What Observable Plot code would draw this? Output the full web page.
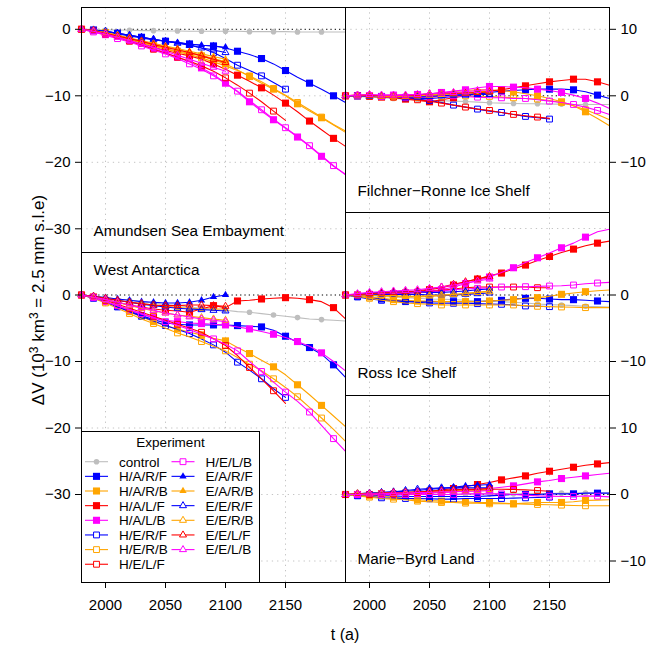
<!DOCTYPE html>
<html>
<head>
<meta charset="utf-8">
<script src="https://cdn.jsdelivr.net/npm/d3@7"></script>
<script src="https://cdn.jsdelivr.net/npm/@observablehq/plot@0.6"></script>
<style>
html,body{margin:0;padding:0;background:#fff;}
#chart{position:relative;width:649px;height:648px;overflow:hidden;font-family:"Liberation Sans",Arial,Helvetica,sans-serif;}
#chart svg{position:absolute;}
</style>
</head>
<body>
<div id="chart"></div>
<script>
// ---------------- data ----------------
const years = [1980,1990,2000,2010,2020,2030,2040,2050,2060,2070,2080,2090,2100,2110,2120,2130,2140,2150,2160,2170,2180,2190,2200];
const experiments = ["control","H/A/R/F","H/A/R/B","H/A/L/F","H/A/L/B","H/E/R/F","H/E/R/B","H/E/L/F","H/E/L/B","E/A/R/F","E/A/R/B","E/E/R/F","E/E/R/B","E/E/L/F","E/E/L/B"];
const xTicks = [2000,2050,2100,2150];
const yTicksASE = [0,-10,-20,-30];
const yTicksWA = [0,-10,-20,-30];
const yTicksFR = [10,0,-10];
const yTicksRoss = [0,-10];
const yTicksMBL = [10,0,-10];
const yGridASE = [-10,-20,-30];
const yGridWA = [-10,-20,-30,-40];
const yGridRight = [10,-10];

// Amundsen Sea Embayment
const ase_control = [0,0,-0.1,-0.1,-0.15,-0.2,-0.2,-0.25,-0.25,-0.3,-0.3,-0.3,-0.3,-0.3,-0.35,-0.35,-0.35,-0.35,-0.4,-0.4,-0.4,-0.4,-0.4];
const ase_HARF = [0,-0.1,-0.3,-0.6,-0.9,-1.2,-1.5,-1.8,-2.0,-2.2,-2.4,-2.5,-2.8,-3.3,-3.8,-4.4,-5.2,-6.2,-7.2,-8.1,-9.0,-10.0,-11.0];
const ase_HARB = [0,-0.2,-0.5,-0.9,-1.4,-1.9,-2.4,-2.9,-3.3,-3.6,-4.0,-4.6,-5.2,-6.1,-7.1,-8.1,-9.0,-10.0,-11.2,-12.3,-13.3,-14.4,-15.5];
const ase_HALF = [0,-0.2,-0.5,-1.0,-1.5,-2.1,-2.7,-3.2,-3.6,-4.0,-4.5,-5.2,-6.0,-6.9,-7.8,-8.8,-9.9,-11.1,-12.4,-13.8,-15.1,-16.4,-17.6];
const ase_HALB = [0,-0.4,-0.8,-1.2,-1.7,-2.3,-2.9,-3.5,-4.2,-4.9,-5.8,-6.8,-8.1,-9.4,-10.9,-12.3,-13.6,-14.9,-16.2,-17.6,-19.1,-20.6,-21.8];
const ase_HERF = [0,-0.2,-0.4,-0.7,-1.0,-1.3,-1.6,-1.8,-2.0,-2.3,-2.8,-3.5,-4.4,-5.4,-6.2,-7.0,-8.0,-9.0];
const ase_HERB = [0,-0.2,-0.5,-1.0,-1.5,-2.0,-2.5,-3.0,-3.4,-3.8,-4.3,-4.9,-5.5,-6.2,-7.0,-7.9,-8.9,-9.9,-11.0,-12.1,-13.2,-14.3,-15.3];
const ase_HELF = [0,-0.3,-0.7,-1.2,-1.8,-2.4,-3.0,-3.6,-4.2,-4.8,-5.5,-6.3,-7.3,-8.4,-9.6,-10.9,-12.3,-13.7];
const ase_HELB = [0,-0.4,-0.9,-1.4,-1.9,-2.5,-3.1,-3.7,-4.4,-5.2,-6.0,-7.0,-8.1,-9.3,-10.7,-12.1,-13.5,-14.8,-16.1,-17.5,-19.0,-20.5,-21.9];
const ase_EARF = [0,-0.1,-0.3,-0.6,-0.9,-1.2,-1.5,-1.8,-2.0,-2.2,-2.4,-2.5,-2.7];
const ase_EARB = [0,-0.2,-0.5,-0.9,-1.3,-1.7,-2.1,-2.5,-2.9,-3.3,-3.7,-4.1,-4.5];
const ase_EERF = [0,-0.1,-0.3,-0.6,-0.9,-1.2,-1.5,-1.8,-2.1,-2.4,-2.8,-3.1,-3.5];
const ase_EERB = [0,-0.2,-0.5,-0.9,-1.3,-1.8,-2.2,-2.6,-3.0,-3.5,-3.9,-4.4,-4.9];
const ase_EELF = [0,-0.2,-0.6,-1.0,-1.4,-1.8,-2.3,-2.7,-3.1,-3.5,-4.0,-4.5,-5.0];
const ase_EELB = [0,-0.3,-0.7,-1.2,-1.7,-2.2,-2.7,-3.3,-3.9,-4.5,-5.1,-5.7,-6.3];

// West Antarctica
const wa_control = [0,-0.2,-0.4,-0.6,-0.8,-1.0,-1.2,-1.4,-1.6,-1.8,-2.0,-2.2,-2.3,-2.5,-2.6,-2.8,-3.0,-3.2,-3.4,-3.6,-3.7,-3.8,-3.9];
const wa_HARF = [0,-0.4,-1.0,-1.7,-2.4,-3.1,-3.7,-4.2,-4.4,-4.5,-4.5,-4.5,-4.5,-4.6,-4.7,-4.8,-5.3,-6.2,-7.1,-7.9,-8.9,-10.5,-12.4];
const wa_HARB = [0,-0.4,-1.0,-1.7,-2.5,-3.3,-4.0,-4.6,-5.1,-5.6,-6.0,-6.5,-6.9,-7.9,-8.8,-9.8,-10.8,-12.0,-13.5,-15.0,-16.6,-18.2,-19.8];
const wa_HALF = [0,-0.3,-0.7,-1.1,-1.5,-1.8,-2.1,-2.3,-2.4,-2.6,-2.1,-1.6,-1.9,-0.9,-0.8,-0.6,-0.5,-0.4,-0.5,-0.7,-1.0,-1.9,-3.6];
const wa_HALB = [0,-0.4,-1.0,-1.6,-2.3,-2.9,-3.4,-3.8,-4.0,-4.2,-4.3,-4.4,-4.5,-4.8,-5.1,-5.5,-5.9,-6.4,-7.0,-7.7,-8.7,-10.0,-11.4];
const wa_HERF = [0,-0.5,-1.1,-1.8,-2.5,-3.2,-3.9,-4.6,-5.2,-5.8,-6.6,-7.5,-8.6,-10.1,-11.3,-12.6,-14.1,-15.4];
const wa_HERB = [0,-0.5,-1.2,-2.0,-2.8,-3.6,-4.3,-5.0,-5.7,-6.3,-7.0,-7.7,-8.4,-9.4,-10.4,-11.4,-12.6,-13.9,-15.3,-16.9,-18.5,-20.2,-22.0];
const wa_HELF = [0,-0.3,-0.8,-1.4,-2.0,-2.6,-3.2,-3.8,-4.4,-5.0,-5.6,-6.6,-7.6,-9.1,-10.9,-12.6,-14.4,-16.3];
const wa_HELB = [0,-0.4,-1.0,-1.6,-2.2,-2.8,-3.4,-4.0,-4.6,-5.2,-5.9,-6.6,-7.4,-8.4,-10.0,-11.5,-13.1,-14.6,-16.0,-17.6,-19.6,-21.6,-23.5];
const wa_EARF = [0,-0.2,-0.4,-0.6,-0.8,-1.0,-1.1,-1.2,-1.2,-1.1,-0.8,-0.3,0.0];
const wa_EARB = [0,-0.2,-0.5,-0.8,-1.1,-1.3,-1.5,-1.7,-1.9,-2.0,-2.1,-2.1,-2.1];
const wa_EERF = [0,-0.2,-0.5,-0.8,-1.1,-1.4,-1.6,-1.8,-2.0,-2.1,-2.2,-2.3,-2.4];
const wa_EERB = [0,-0.3,-0.7,-1.1,-1.6,-2.0,-2.4,-2.7,-3.0,-3.2,-3.4,-3.6,-3.8];
const wa_EELF = [0,-0.2,-0.5,-0.8,-1.1,-1.3,-1.5,-1.6,-1.6,-1.5,-1.5,-1.6,-1.7];
const wa_EELB = [0,-0.3,-0.7,-1.1,-1.5,-1.9,-2.3,-2.7,-3.0,-3.3,-3.6,-3.8,-4.0];

// Filchner-Ronne Ice Shelf
const fr_control = [0,-0.1,-0.2,-0.3,-0.4,-0.5,-0.6,-0.7,-0.75,-0.8,-0.85,-0.95,-1.05,-1.1,-1.15,-1.2,-1.2,-1.25,-1.25,-1.3,-1.3,-1.3,-1.3];
const fr_HARF = [0,0,-0.1,-0.1,-0.2,-0.3,-0.4,-0.4,-0.3,-0.1,0.1,0.3,0.5,0.7,0.8,0.9,1.0,1.0,1.0,0.9,0.6,0.1,-0.4];
const fr_HARB = [0,0,0,0,0,0,0.1,0.2,0.4,0.6,0.8,0.9,0.9,0.8,0.6,0.3,0.0,-0.4,-0.9,-1.5,-2.4,-3.4,-4.5];
const fr_HALF = [0,0,-0.1,-0.2,-0.3,-0.5,-0.7,-0.9,-0.6,-0.3,0.0,0.4,0.7,0.9,1.2,1.5,1.8,2.1,2.3,2.5,2.5,2.1,1.6];
const fr_HALB = [0,0,0,0.1,0.1,0.2,0.2,0.3,0.5,0.7,0.9,1.2,1.4,1.4,1.3,1.2,1.0,0.8,0.5,0.1,-0.4,-1.1,-1.9];
const fr_HERF = [0,0,-0.1,-0.1,-0.2,-0.3,-0.5,-0.7,-1.0,-1.4,-1.7,-2.0,-2.3,-2.5,-2.8,-3.1,-3.3,-3.5];
const fr_HERB = [0,0,-0.1,-0.1,-0.2,-0.2,-0.2,-0.2,-0.1,0,0,-0.1,-0.1,-0.2,-0.3,-0.4,-0.5,-0.7,-1.0,-1.5,-2.1,-2.8,-3.6];
const fr_HELF = [0,0,-0.1,-0.1,-0.2,-0.4,-0.6,-0.8,-1.1,-1.4,-1.7,-2.0,-2.2,-2.5,-2.8,-3.0,-3.2,-3.4];
const fr_HELB = [0,0,-0.1,-0.1,-0.2,-0.2,-0.2,-0.2,-0.1,0,-0.1,-0.2,-0.3,-0.3,-0.4,-0.4,-0.6,-0.8,-1.0,-1.3,-1.7,-2.2,-2.8];
const fr_EARF = [0,0,0,-0.1,-0.1,-0.1,0,0,0.1,0.1,0.2,0.3,0.4];
const fr_EARB = [0,0.1,0.1,0,0,0,0,0.1,0.2,0.3,0.5,0.6,0.7];
const fr_EERF = [0,0,-0.1,-0.1,-0.1,-0.2,-0.2,-0.1,0,0.1,0.1,0.2,0.2];
const fr_EERB = [0,0,0,-0.1,-0.1,-0.1,0,0.1,0.2,0.3,0.4,0.5,0.6];
const fr_EELF = [0,0.1,0.1,0,0,0,0.1,0.3,0.4,0.4,0.4,0.5,0.6];
const fr_EELB = [0,0.1,0.2,0.1,0.1,0.1,0.2,0.3,0.4,0.5,0.6,0.8,0.9];

// Ross Ice Shelf
const ross_control = [0,0,-0.1,-0.2,-0.3,-0.4,-0.5,-0.6,-0.65,-0.7,-0.8,-0.9,-0.95,-1.0,-1.1,-1.2,-1.35,-1.45,-1.5,-1.6,-1.7,-1.75,-1.8];
const ross_HARF = [0,-0.2,-0.4,-0.6,-0.8,-0.9,-1.0,-1.0,-1.0,-1.0,-1.0,-1.0,-0.9,-0.8,-0.6,-0.5,-0.5,-0.6,-0.7,-0.7,-0.8,-0.9,-1.0];
const ross_HARB = [0,-0.1,-0.3,-0.5,-0.7,-0.8,-0.9,-0.9,-1.0,-1.0,-1.0,-1.0,-0.9,-0.8,-0.7,-0.5,-0.4,-0.2,0.1,0.3,0.5,0.65,0.75];
const ross_HALF = [0,0,0.1,0.1,0.2,0.3,0.5,0.8,1.1,1.5,2.0,2.4,2.9,3.3,3.9,4.5,5.2,5.8,6.4,6.9,7.4,7.8,8.1];
const ross_HALB = [0,0,0.1,0.1,0.2,0.3,0.4,0.6,0.8,1.2,1.7,2.2,2.7,3.4,4.1,4.9,5.6,6.3,7.1,7.8,8.7,9.5,9.9];
const ross_HERF = [0,-0.3,-0.6,-0.8,-0.9,-1.0,-1.1,-1.2,-1.25,-1.25,-1.25,-1.3,-1.35,-1.4,-1.5,-1.65,-1.7,-1.75];
const ross_HERB = [0,-0.2,-0.5,-0.8,-1.0,-1.2,-1.3,-1.4,-1.5,-1.5,-1.5,-1.5,-1.5,-1.5,-1.5,-1.6,-1.7,-1.75,-1.8,-1.85,-1.9,-1.9,-1.9];
const ross_HELF = [0,0,0.1,0.1,0.2,0.3,0.4,0.5,0.7,0.9,1.1,1.2,1.2,1.2,1.2,1.2,1.1,1.1];
const ross_HELB = [0,0,0.1,0.1,0.2,0.3,0.4,0.5,0.6,0.8,0.9,1.0,1.1,1.2,1.25,1.25,1.3,1.35,1.4,1.5,1.7,1.8,1.9];
const ross_EARF = [0,0.1,0.3,0.4,0.5,0.5,0.5,0.4,0.4,0.5,0.6,0.8,0.9];
const ross_EARB = [0,0,0,-0.1,-0.2,-0.3,-0.3,-0.2,-0.1,0,0.2,0.4,0.6];
const ross_EERF = [0,0,0.1,0.1,0.1,0.1,0.1,0,0,0,0.1,0.2,0.3];
const ross_EERB = [0,0,0,-0.1,-0.1,-0.2,-0.2,-0.1,0,0.1,0.2,0.4,0.5];
const ross_EELF = [0,0.1,0.2,0.3,0.4,0.5,0.6,0.9,1.2,1.6,2.0,2.4,2.8];
const ross_EELB = [0,0.2,0.4,0.5,0.6,0.7,0.8,1.0,1.2,1.5,1.8,2.1,2.4];

// Marie-Byrd Land
const mbl_control = [0,0,0,0,0,0,0,0,0,0,0.05,0.1,0.1,0.1,0.1,0.15,0.15,0.15,0.2,0.2,0.2,0.2,0.2];
const mbl_HARF = [0,-0.1,-0.1,-0.2,-0.2,-0.3,-0.3,-0.3,-0.3,-0.3,-0.3,-0.3,-0.2,-0.1,0,0,0,0.1,0.1,0.1,0.2,0.2,0.2];
const mbl_HARB = [0,-0.1,-0.2,-0.3,-0.4,-0.6,-0.8,-0.9,-1.0,-1.1,-1.1,-1.2,-1.2,-1.3,-1.4,-1.3,-1.2,-1.2,-1.2,-1.1,-0.9,-0.85,-0.8];
const mbl_HALF = [0,0,0,0.1,0.1,0.2,0.3,0.5,0.7,0.9,1.2,1.5,1.8,2.2,2.5,2.8,3.2,3.5,3.8,4.1,4.4,4.6,4.8];
const mbl_HALB = [0,0,0,0,0,0,0.1,0.2,0.3,0.4,0.6,0.8,0.9,1.1,1.3,1.6,1.9,2.1,2.4,2.6,2.8,3.0,3.2];
const mbl_HERF = [0,-0.2,-0.3,-0.5,-0.55,-0.6,-0.6,-0.65,-0.7,-0.7,-0.6,-0.6,-0.6,-0.6,-0.55,-0.5,-0.45,-0.4];
const mbl_HERB = [0,-0.2,-0.4,-0.6,-0.7,-0.8,-1.0,-1.1,-1.2,-1.2,-1.3,-1.3,-1.4,-1.4,-1.4,-1.45,-1.5,-1.55,-1.6,-1.65,-1.7,-1.7,-1.7];
const mbl_HELF = [0,0,0,0.1,0.1,0.2,0.3,0.4,0.5,0.6,0.7,0.8,0.8,0.8,0.75,0.7,0.6,0.5];
const mbl_HELB = [0,0,0,0,0,0,0,0,0,0,0.1,0.1,0.1,0.1,0,-0.1,-0.2,-0.25,-0.3,-0.3,-0.2,-0.25,-0.35];
const mbl_EARF = [0,0.1,0.2,0.3,0.4,0.5,0.6,0.8,0.9,1.1,1.3,1.4,1.5];
const mbl_EARB = [0,0.1,0.2,0.2,0.3,0.3,0.4,0.5,0.5,0.5,0.6,0.6,0.7];
const mbl_EERF = [0,0.1,0.2,0.3,0.4,0.6,0.8,0.9,1.0,1.0,1.0,1.0,1.0];
const mbl_EERB = [0,0.1,0.1,0.2,0.2,0.3,0.3,0.4,0.4,0.5,0.5,0.6,0.7];
const mbl_EELF = [0,0.1,0.1,0.2,0.3,0.3,0.4,0.5,0.6,0.7,0.8,0.8,0.9];
const mbl_EELB = [0,0,0.1,0.1,0.2,0.2,0.3,0.3,0.4,0.4,0.5,0.5,0.6];

// ---------------- styles ----------------
const expColor = ["#BEBEBE","#0000FF","#FFA500","#FF0000","#FF00FF","#0000FF","#FFA500","#FF0000","#FF00FF","#0000FF","#FFA500","#0000FF","#FFA500","#FF0000","#FF00FF"];
const expShape = ["circle","square","square","square","square","square","square","square","square","triangle","triangle","triangle","triangle","triangle","triangle"];
const expFilled = [true,true,true,true,true,false,false,false,false,true,true,false,false,false,false];
const markStep = [2,2,2,2,2,2,2,2,2,1,1,1,1,1,1];
const markPhase = [0,1,0,1,0,1,0,0,1,0,0,0,0,0,0];
function markR(i){
  if (expShape[i]==="circle") return 2.8;
  if (expShape[i]==="square") return expFilled[i] ? 4.0 : 3.3;
  return expFilled[i] ? 2.7 : 2.6;
}

const K = 6.65; // pixels per 10^3 km^3
const FONT = "'Liberation Sans', Arial, Helvetica, sans-serif";
const ML = 75, MR = 45, MT = 5, MB = 40, W = 264;

const panels = [
  {title:"Amundsen Sea Embayment", series:[ase_control,ase_HARF,ase_HARB,ase_HALF,ase_HALB,ase_HERF,ase_HERB,ase_HELF,ase_HELB,ase_EARF,ase_EARB,ase_EERF,ase_EERB,ase_EELF,ase_EELB],
   left:81, top:7, h:245, zero:29.3, ticks:yTicksASE, grid:yGridASE, anchor:"left", xAxis:false, tAnchor:"bottom-left", tdy:-21},
  {title:"West Antarctica", series:[wa_control,wa_HARF,wa_HARB,wa_HALF,wa_HALB,wa_HERF,wa_HERB,wa_HELF,wa_HELB,wa_EARF,wa_EARB,wa_EERF,wa_EERB,wa_EELF,wa_EELB],
   left:81, top:252, h:330, zero:295, ticks:yTicksWA, grid:yGridWA, anchor:"left", xAxis:true, tAnchor:"top-left", tdy:17.5},
  {title:"Filchner\u2212Ronne Ice Shelf", series:[fr_control,fr_HARF,fr_HARB,fr_HALF,fr_HALB,fr_HERF,fr_HERB,fr_HELF,fr_HELB,fr_EARF,fr_EARB,fr_EERF,fr_EERB,fr_EELF,fr_EELB],
   left:345, top:7, h:205, zero:95.8, ticks:yTicksFR, grid:yGridRight, anchor:"right", xAxis:false, tAnchor:"bottom-left", tdy:-21},
  {title:"Ross Ice Shelf", series:[ross_control,ross_HARF,ross_HARB,ross_HALF,ross_HALB,ross_HERF,ross_HERB,ross_HELF,ross_HELB,ross_EARF,ross_EARB,ross_EERF,ross_EERB,ross_EELF,ross_EELB],
   left:345, top:212, h:183, zero:295, ticks:yTicksRoss, grid:yGridRight, anchor:"right", xAxis:false, tAnchor:"bottom-left", tdy:-22.5},
  {title:"Marie\u2212Byrd Land", series:[mbl_control,mbl_HARF,mbl_HARB,mbl_HALF,mbl_HALB,mbl_HERF,mbl_HERB,mbl_HELF,mbl_HELB,mbl_EARF,mbl_EARB,mbl_EERF,mbl_EERB,mbl_EELF,mbl_EELB],
   left:345, top:395, h:187, zero:494.5, ticks:yTicksMBL, grid:yGridRight, anchor:"right", xAxis:true, tAnchor:"bottom-left", tdy:-23}
];

const chart = document.getElementById("chart");

for (const p of panels) {
  const vMax = (p.zero - p.top - 0.5) / K;
  const vMin = vMax - p.h / K;
  const marks = [
    Plot.ruleX(xTicks, {stroke:"#c4c4c4", strokeDasharray:"1.3 4"}),
    Plot.ruleY(p.grid, {stroke:"#c4c4c4", strokeDasharray:"1.3 4"}),
    Plot.ruleY([0], {stroke:"#000", strokeDasharray:"1.3 3"})
  ];
  p.series.forEach((vals, i) => {
    const rows = vals.map((v, j) => ({year: years[j], v, j}));
    marks.push(Plot.line(rows, {x:"year", y:"v", stroke:expColor[i], strokeWidth:1.1}));
    const mrows = rows.filter(r => r.j < years.length - 1 && (r.j - markPhase[i]) % markStep[i] === 0);
    marks.push(Plot.dot(mrows, {
      x:"year", y:"v", symbol:expShape[i], r:markR(i),
      fill: expFilled[i] ? expColor[i] : "none",
      stroke: expFilled[i] ? "none" : expColor[i],
      strokeWidth: 1
    }));
  });
  marks.push(Plot.text([p.title], {text:d=>d, frameAnchor:p.tAnchor, dx:12, dy:p.tdy, textAnchor:"start", lineAnchor:"middle", fontSize:15.3, fill:"#000"}));
  marks.push(Plot.axisY(p.ticks, {anchor:p.anchor, tickSize:6, tickPadding:5, label:null, fontSize:15}));
  if (p.xAxis) marks.push(Plot.axisX(xTicks, {anchor:"bottom", tickSize:6, tickPadding:11, tickFormat:"d", label:null, fontSize:15}));
  marks.push(Plot.frame({stroke:"#000", strokeWidth:1}));

  const svg = Plot.plot({
    width: ML + W + MR, height: MT + p.h + MB,
    marginLeft: ML, marginRight: MR, marginTop: MT, marginBottom: MB,
    x: {domain:[1980,2200], ...(p.xAxis ? {} : {axis:null})},
    y: {domain:[vMin, vMax]},
    style: {background:"transparent", overflow:"visible", fontFamily:FONT, fontSize:"15px", color:"#000"},
    marks
  });
  svg.style.left = (p.left - ML) + "px";
  svg.style.top = (p.top - MT) + "px";
  svg.style.position = "absolute";
  chart.appendChild(svg);
}

// ---------------- overlay: axis titles and legend ----------------
const ov = d3.select(chart).append("svg")
  .attr("width", 649).attr("height", 648)
  .style("left","0px").style("top","0px").style("position","absolute")
  .style("font-family", FONT);

const yt = ov.append("text")
  .attr("transform","translate(44,300) rotate(-90)")
  .attr("text-anchor","middle").attr("font-size",17).attr("fill","#000");
yt.append("tspan").text("\u0394V (10");
yt.append("tspan").attr("dy",-6.5).attr("font-size",12).text("3");
yt.append("tspan").attr("dy",6.5).text(" km");
yt.append("tspan").attr("dy",-6.5).attr("font-size",12).text("3");
yt.append("tspan").attr("dy",6.5).text(" = 2.5 mm s.l.e)");

ov.append("text").attr("x",345).attr("y",640).attr("text-anchor","middle")
  .attr("font-size",16).attr("fill","#000").text("t (a)");

// legend
const lg = ov.append("g");
lg.append("rect").attr("x",81.5).attr("y",431.5).attr("width",178).attr("height",151)
  .attr("fill","#fff").attr("stroke","#000");
lg.append("text").attr("x",170.5).attr("y",446.5).attr("text-anchor","middle")
  .attr("font-size",13.5).attr("fill","#000").text("Experiment");
const symMap = {circle:d3.symbolCircle, square:d3.symbolSquare, triangle:d3.symbolTriangle};
experiments.forEach((name, i) => {
  const col = i < 8 ? 0 : 1;
  const row = i < 8 ? i : i - 8;
  const cy = 461.7 + row * 14.65;
  const x0 = col === 0 ? 85 : 171.5;
  const g = lg.append("g");
  g.append("line").attr("x1",x0).attr("x2",x0+23).attr("y1",cy).attr("y2",cy)
    .attr("stroke",expColor[i]).attr("stroke-width",1.1);
  const r = markR(i);
  g.append("path").attr("d", d3.symbol(symMap[expShape[i]], Math.PI*r*r)())
    .attr("transform",`translate(${x0+11.5},${cy})`)
    .attr("fill", expFilled[i] ? expColor[i] : "#fff")
    .attr("stroke", expFilled[i] ? "none" : expColor[i]).attr("stroke-width",1);
  g.append("text").attr("x", x0 + 34).attr("y", cy).attr("dy","0.36em")
    .attr("font-size",13.5).attr("fill","#000").text(name);
});
</script>
</body>
</html>
